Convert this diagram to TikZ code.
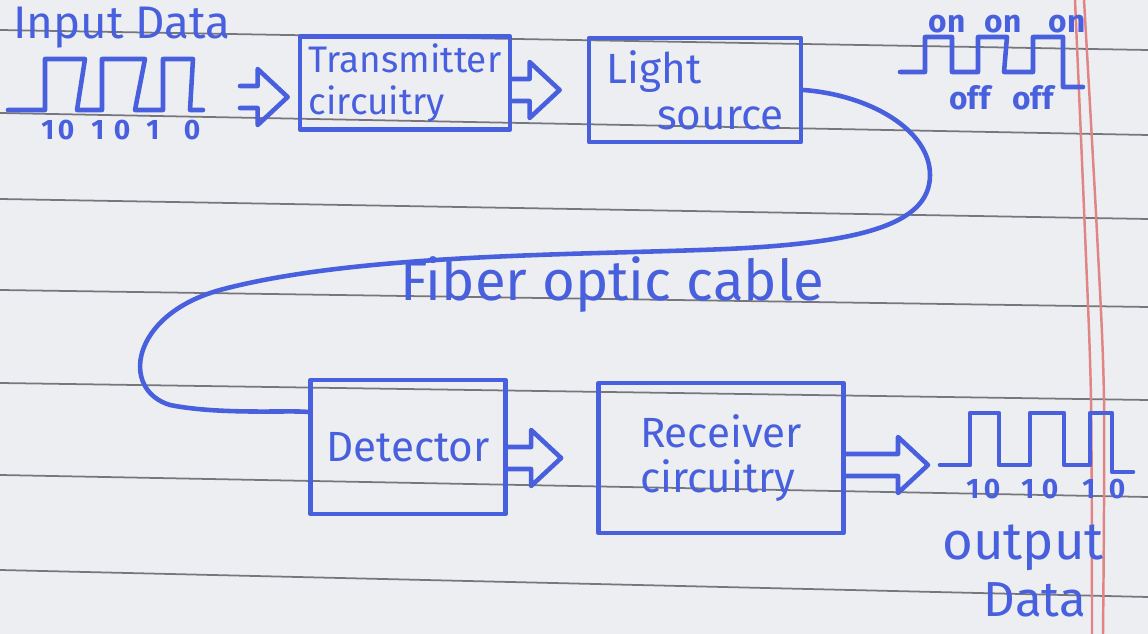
\documentclass[tikz,border=0pt]{standalone}
\usepackage{fontspec}
\setmainfont{Fira Sans}
\usepackage{tikz}
\usetikzlibrary{calc, positioning}
\definecolor{inkblue}{RGB}{72,96,222}
\definecolor{paper}{RGB}{237,238,242}
\definecolor{ruled}{RGB}{118,118,124}
\definecolor{marginred}{RGB}{224,132,132}

\tikzset{
    ink/.style={draw=inkblue, line width=1.3pt, line join=round, line cap=round},
    blk/.style={ink, rectangle, inner sep=2pt, align=left, text=inkblue, font=\fontsize{12}{13}\selectfont},
    hand/.style={text=inkblue, inner sep=0pt},
    bit/.style={text=inkblue, inner sep=0pt, font=\fontsize{8}{8}\selectfont\bfseries},
    fat/.style={ink, to path={let \p1=(\tikztostart), \p2=(\tikztotarget) in
        (\x1,{\y2+0.11cm}) -- ({\x2-0.3cm},{\y2+0.11cm}) -- ({\x2-0.3cm},{\y2+0.28cm})
        -- (\x2,\y2) -- ({\x2-0.3cm},{\y2-0.28cm}) -- ({\x2-0.3cm},{\y2-0.11cm}) -- (\x1,{\y2-0.11cm})}}
}

\begin{document}
\begin{tikzpicture}[x=0.01cm, y=-0.01cm]
    % Paper
    \fill[paper] (0,0) rectangle (1148,634);
    \useasboundingbox (0,0) rectangle (1148,634);

    % Ruled lines
    \foreach \l/\r in {30/50, 113/135, 199/219, 290/307, 383/400, 475/497, 570/597}
        \draw[ruled, line width=0.5pt] (0,\l) -- (1148,\r);

    % Margin
    \draw[marginred, line width=0.7pt] plot[smooth] coordinates {(1075,0) (1085,233) (1091,400) (1092,634)};
    \draw[marginred, line width=0.7pt] plot[smooth] coordinates {(1084,0) (1097,233) (1104,400) (1103,634)};

    % Input data
    \node[hand, font=\fontsize{13}{13}\selectfont] (indata) at (122,28) {Input Data};
    \draw[ink] (8,110) -- (45,110) -- (45,59) -- (85,59) -- (77,110) -- (102,110) -- (102,59) -- (145,59)
        -- (135,110) -- (163,110) -- (163,59) -- (193,59) -- (190,110) -- (203,110);
    \foreach \x/\b in {48/1, 66/0, 98/1, 122/0, 153/1, 192/0}
        \node[bit] (in\x) at (\x,130) {\b};

    % Blocks
    \node[blk, font=\fontsize{10.5}{12}\selectfont, minimum width=2.1cm, minimum height=0.91cm] (tx) at (405,83) {Transmitter\\circuitry};
    \node[blk, minimum width=2.12cm, minimum height=1.04cm] (ls) at (695,90) {Light\\\hspace*{1.2em}source};
    \node[blk, minimum width=1.95cm, minimum height=1.34cm] (dt) at (408,447) {Detector};
    \node[blk, minimum width=2.45cm, minimum height=1.5cm] (rc) at (721,458) {Receiver\\circuitry};

    % Block arrows
    \coordinate (inarr) at (240,98);
    \coordinate (outw) at (940,465);
    \draw[fat] (inarr) to ([xshift=-0.1cm, yshift=-0.14cm]tx.west);
    \draw[fat] (tx.east) to ([xshift=-0.27cm]ls.west);
    \draw[fat] (dt.east) to ([xshift=-0.35cm]rc.west);
    \draw[fat] (rc.east) to ([xshift=-0.12cm]outw);

    % Light pulses
    \draw[ink] (900,72) -- (925,72) -- (925,37) -- (952,37) -- (952,72) -- (978,72) -- (978,37) -- (1007,37)
        -- (1004,72) -- (1033,72) -- (1033,37) -- (1063,37) -- (1063,87) -- (1083,87);
    \foreach \x/\i in {947/1, 1003/2, 1067/3}
        \node[bit, font=\fontsize{9}{9}\selectfont\bfseries] (on\i) at (\x,24) {on};
    \foreach \x/\i in {970/1, 1033/2}
        \node[bit, font=\fontsize{9}{9}\selectfont\bfseries] (off\i) at (\x,98) {off};

    % Fiber optic cable
    \draw[ink] (ls.east) .. controls (870,95) and (930,130) .. (930,175)
        .. controls (930,225) and (860,245) .. (700,250)
        .. controls (560,255) and (350,255) .. (220,290)
        .. controls (130,315) and (120,390) .. (170,405)
        .. controls (220,415) and (290,410) .. ([yshift=0.35cm]dt.west);
    \node[hand, font=\fontsize{16}{16}\selectfont] (fiber) at (612,285) {Fiber optic cable};

    % Output data
    \draw[ink] (outw) -- (970,465) -- (970,413) -- (999,413) -- (999,465) -- (1030,465) -- (1030,413) -- (1064,413)
        -- (1064,465) -- (1090,465) -- (1090,413) -- (1112,413) -- (1112,472) -- (1133,472);
    \foreach \x/\b in {973/1, 992/0, 1028/1, 1050/0, 1089/1, 1117/0}
        \node[bit] (out\x) at (\x,489) {\b};
    \node[hand, font=\fontsize{15}{15}\selectfont] (outlbl) at (1023,548) {output};
    \node[hand, font=\fontsize{14}{14}\selectfont] (outdata) at (1035,600) {Data};
\end{tikzpicture}
\end{document}
